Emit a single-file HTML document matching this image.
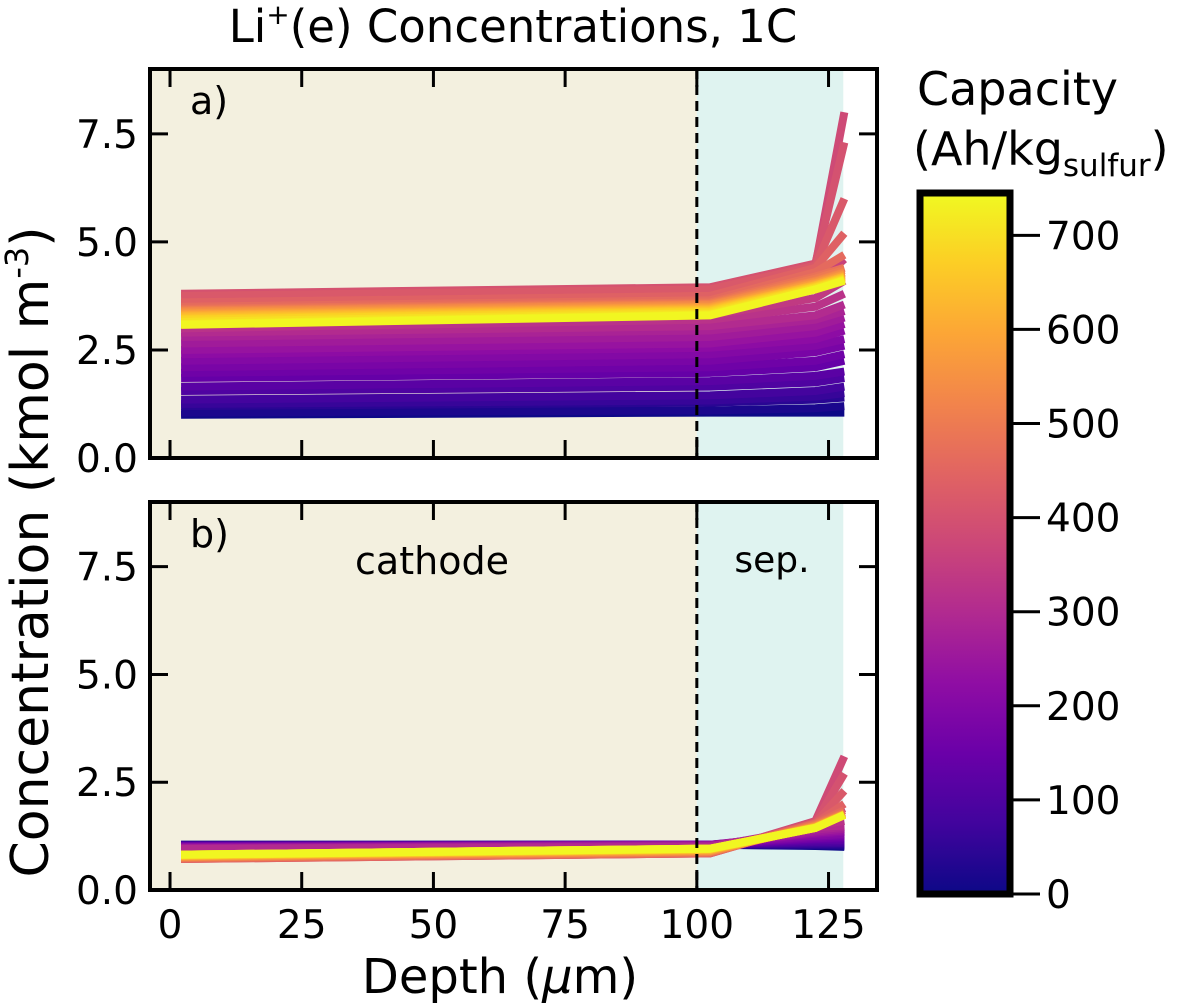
<!DOCTYPE html>
<html><head><meta charset="utf-8"><style>
html,body{margin:0;padding:0;background:#fff;}
svg{display:block;font-family:"DejaVu Sans","Liberation Sans",sans-serif;}
</style></head><body>
<svg id="chart" width="1189" height="1003" viewBox="0 0 1189 1003" xmlns="http://www.w3.org/2000/svg">
<defs>
<linearGradient id="plasma" x1="0" y1="1" x2="0" y2="0">
<stop offset="0" stop-color="#0d0887"/><stop offset="0.1" stop-color="#41049d"/><stop offset="0.2" stop-color="#6a00a8"/><stop offset="0.3" stop-color="#8f0da4"/><stop offset="0.4" stop-color="#b12a90"/><stop offset="0.5" stop-color="#cc4778"/><stop offset="0.6" stop-color="#e16462"/><stop offset="0.7" stop-color="#f2844b"/><stop offset="0.8" stop-color="#fca636"/><stop offset="0.9" stop-color="#fcce25"/><stop offset="1" stop-color="#f0f921"/>
</linearGradient>
</defs>
<text x="513" y="42" font-size="45" text-anchor="middle">Li<tspan font-size="28" dy="-18">+</tspan><tspan dy="18">(e) Concentrations, 1C</tspan></text>
<text transform="translate(48,552) rotate(-90)" font-size="52" text-anchor="middle">Concentration (kmol m<tspan font-size="32" dy="-20">-3</tspan><tspan dy="20">)</tspan></text>
<text x="500" y="993" font-size="48" text-anchor="middle">Depth (<tspan font-style="italic">μ</tspan>m)</text>
<g id="panelA"></g>
<g id="panelB"></g>
<g id="cbar">
<text x="917" y="105" font-size="46">Capacity</text>
<text x="913" y="165" font-size="46">(Ah/kg<tspan font-size="31" dy="11">sulfur</tspan><tspan dy="-11">)</tspan></text>
<rect x="920" y="193" width="90" height="701" fill="url(#plasma)" stroke="#000" stroke-width="7"/>
</g>
</svg>
<script>
const caps=[0,20,40,60,80,100,120,140,160,180,200,220,240,260,280,300,320,340,360,380,400,420,440,460,480,500,520,540,560,580,600,620,640,660,680,700,720,740];
const depthPts=[2.1,102.5,122.5,128];
const a0=[1.0,1.05,1.2,1.25,1.35,1.55,1.65,1.85,1.97,2.1,2.25,2.4,2.5,2.65,2.8,2.9,3.0,3.1,3.3,3.6,3.8,3.75,3.6,3.5,3.45,3.42,3.4,3.38,3.35,3.32,3.3,3.28,3.25,3.22,3.2,3.15,3.1,3.08];
const a1=[1.05,1.1,1.28,1.33,1.45,1.65,1.78,1.97,2.1,2.25,2.4,2.55,2.65,2.8,2.95,3.05,3.2,3.3,3.5,3.8,3.95,3.9,3.75,3.65,3.6,3.57,3.55,3.53,3.5,3.48,3.46,3.44,3.42,3.4,3.38,3.35,3.32,3.3];
const a2=[1.05,1.15,1.35,1.42,1.55,1.75,1.9,2.1,2.25,2.45,2.6,2.75,2.9,3.05,3.2,3.3,3.5,3.7,4.0,4.45,4.5,4.45,4.4,4.3,4.2,4.15,4.1,4.08,4.05,4.03,4.0,4.0,3.98,3.96,3.95,3.93,3.9,3.9];
const a3=[1.05,1.2,1.4,1.5,1.65,1.85,2.0,2.25,2.4,2.6,2.75,2.95,3.1,3.25,3.4,3.55,3.8,4.1,4.6,8.0,7.3,6.0,5.2,4.7,4.4,4.35,4.3,4.28,4.25,4.23,4.2,4.2,4.18,4.17,4.15,4.13,4.12,4.1];
const b0=[1.05,1.05,1.04,1.04,1.03,1.03,1.02,1.02,1.01,1.0,1.0,0.99,0.98,0.97,0.96,0.95,0.78,0.76,0.75,0.74,0.73,0.72,0.72,0.73,0.74,0.75,0.76,0.77,0.78,0.78,0.79,0.8,0.8,0.81,0.81,0.82,0.82,0.82];
const b1=[1.05,1.05,1.05,1.05,1.05,1.05,1.05,1.05,1.05,1.05,1.05,1.05,1.04,1.03,1.02,1.0,0.9,0.88,0.87,0.86,0.85,0.85,0.85,0.86,0.87,0.88,0.89,0.9,0.91,0.92,0.93,0.94,0.94,0.95,0.95,0.96,0.96,0.96];
const b2=[1.02,1.03,1.05,1.07,1.1,1.12,1.15,1.18,1.2,1.23,1.26,1.3,1.33,1.36,1.4,1.45,1.5,1.55,1.58,1.6,1.58,1.56,1.55,1.54,1.52,1.5,1.49,1.48,1.47,1.46,1.46,1.45,1.45,1.45,1.44,1.44,1.44,1.44];
const b3=[1.0,1.02,1.05,1.08,1.1,1.13,1.16,1.2,1.23,1.27,1.3,1.35,1.38,1.42,1.46,1.5,1.6,1.75,1.9,3.1,2.7,2.3,2.0,1.85,1.8,1.78,1.77,1.76,1.76,1.75,1.75,1.75,1.75,1.74,1.74,1.74,1.74,1.74];
const yTicks=[0,2.5,5,7.5];
const yTickLabels=["0.0","2.5","5.0","7.5"];
const xTicks=[0,25,50,75,100,125];
const cbTicks=[0,100,200,300,400,500,600,700];

const NS="http://www.w3.org/2000/svg";
const svg=document.getElementById('chart');
function mk(tag,attrs,parent){const e=document.createElementNS(NS,tag);for(const k in attrs)e.setAttribute(k,attrs[k]);(parent||svg).appendChild(e);return e;}
const X0=150,X1=877,xmin=-3.8,xmax=134.2;
function xs(v){return X0+(v-xmin)/(xmax-xmin)*(X1-X0);}
const CMAX=745;
const stops=["#0d0887","#41049d","#6a00a8","#8f0da4","#b12a90","#cc4778","#e16462","#f2844b","#fca636","#fcce25","#f0f921"];
function hex(h){return [1,3,5].map(i=>parseInt(h.substr(i,2),16));}
function plasma(t){t=Math.max(0,Math.min(1,t))*10;const i=Math.min(9,Math.floor(t)),f=t-i;const a=hex(stops[i]),b=hex(stops[i+1]);return 'rgb('+a.map((v,k)=>Math.round(v+(b[k]-v)*f)).join(',')+')';}

function panel(g,top,bot,series,label,showX,withText){
  const ys=v=>bot-(v/9)*(bot-top);
  const bg1=mk('rect',{x:X0,y:top,width:xs(100)-X0,height:bot-top,fill:'#f3f0df'},g);
  
  
  const bg2=mk('rect',{x:xs(100),y:top,width:xs(127.8)-xs(100),height:bot-top,fill:'#dff3f0'},g);
  
  
  for(let i=0;i<caps.length;i++){
    const pts=depthPts.map((d,j)=>xs(d)+','+ys(series[j][i])).join(' ');
    const pl=mk('polyline',{points:pts,fill:'none',stroke:plasma(caps[i]/CMAX),'stroke-width':8,'stroke-linejoin':'miter'},g);
    
    
  }
  const dl=mk('line',{x1:xs(100),x2:xs(100),y1:top,y2:bot,stroke:'#000','stroke-width':3,'stroke-dasharray':'10,6'},g);
  
  
  const fr=mk('rect',{x:X0,y:top,width:X1-X0,height:bot-top,fill:'none',stroke:'#000','stroke-width':4},g);
  
  
  yTicks.forEach((v,i)=>{
    const y=ys(v);
    mk('line',{x1:X0,x2:X0+18,y1:y,y2:y,stroke:'#000','stroke-width':3},g);
    mk('line',{x1:X1,x2:X1-18,y1:y,y2:y,stroke:'#000','stroke-width':3},g);
    const t=mk('text',{x:X0-12,y:y+14,'font-size':39,'text-anchor':'end'},g);
    t.textContent=yTickLabels[i];
    
    
  });
  xTicks.forEach(v=>{
    const x=xs(v);
    mk('line',{x1:x,x2:x,y1:bot,y2:bot-18,stroke:'#000','stroke-width':3},g);
    mk('line',{x1:x,x2:x,y1:top,y2:top+18,stroke:'#000','stroke-width':3},g);
    if(showX){const t=mk('text',{x:x,y:bot+48,'font-size':39,'text-anchor':'middle'},g);t.textContent=String(v);
      
      }
  });
  const lt=mk('text',{x:190,y:top+45,'font-size':38},g);lt.textContent=label;
  
  
  if(withText){
    const c=mk('text',{x:432,y:top+72,'font-size':38,'text-anchor':'middle'},g);c.textContent='cathode';
    
    
    const s=mk('text',{x:772,y:top+70,'font-size':36,'text-anchor':'middle'},g);s.textContent='sep.';
    
    
  }
}
panel(document.getElementById('panelA'),69,458,[a0,a1,a2,a3],'a)',false,false);
panel(document.getElementById('panelB'),502,890,[b0,b1,b2,b3],'b)',true,true);

const cb=document.getElementById('cbar');
const cTop=193,cBot=894;
cbTicks.forEach(v=>{
  const y=cBot-(v/CMAX)*(cBot-cTop);
  mk('line',{x1:1013,x2:1040,y1:y,y2:y,stroke:'#000','stroke-width':3},cb);
  const t=mk('text',{x:1046,y:y+14,'font-size':39},cb);t.textContent=String(v);
  
  
});
</script>
</body></html>
